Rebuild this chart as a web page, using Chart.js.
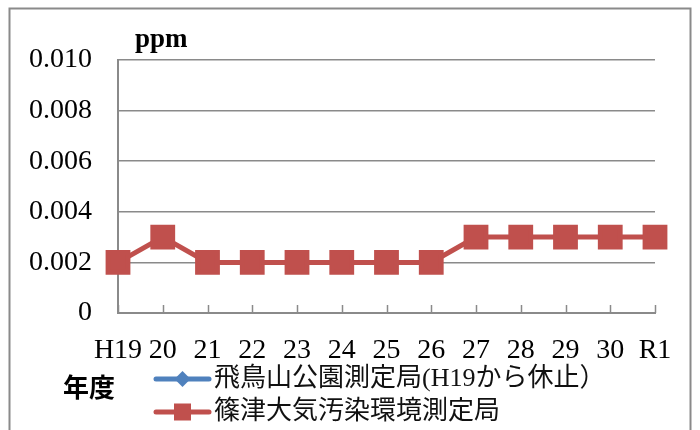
<!DOCTYPE html>
<html>
<head>
<meta charset="utf-8">
<script src="https://cdn.jsdelivr.net/npm/chart.js@4/dist/chart.umd.min.js"></script>
<style>
  html, body { margin: 0; padding: 0; background: #fff; }
  #wrap { width: 700px; height: 430px; }
</style>
</head>
<body>
<div id="wrap"><canvas id="c" width="700" height="430"></canvas></div>
<script>
// Fiscal years (H19 … H30, then R1)
const years = ['H19', '20', '21', '22', '23', '24', '25', '26', '27', '28', '29', '30', 'R1'];

// Annual mean values (ppm)
const asukayamaValues = [null, null, null, null, null, null, null, null, null, null, null, null, null];
const shinotsuValues = [0.002, 0.003, 0.002, 0.002, 0.002, 0.002, 0.002, 0.002, 0.003, 0.003, 0.003, 0.003, 0.003];

const seriesNames = ['飛鳥山公園測定局(H19から休止）', '篠津大気汚染環境測定局'];
const yTicks = [0, 0.002, 0.004, 0.006, 0.008, 0.010];

const unitLabel = 'ppm';
const xTitle = '年度';

const SERIF = '"Liberation Serif", "DejaVu Serif", serif';
const CJK = '"Noto Sans CJK JP", "Noto Sans", sans-serif';
const MIXED = '"Liberation Serif", "Noto Sans CJK JP", serif';
const GRID = '#8a8a8a';

// Frame, inner tick marks, unit label, axis title and legend
const decorations = {
  id: 'decorations',
  afterDraw(chart) {
    const ctx = chart.ctx;
    const area = chart.chartArea;
    const xs = chart.scales.x;
    ctx.save();

    // outer frame
    ctx.strokeStyle = '#8a8a8a';
    ctx.lineWidth = 2;
    ctx.strokeRect(9.5, 8.5, 681, 440);

    // tick marks pointing into the plot
    ctx.strokeStyle = GRID;
    ctx.lineWidth = 1.5;
    for (let i = 0; i < years.length; i++) {
      const x = Math.round(xs.getPixelForValue(i)) + 0.5;
      ctx.beginPath();
      ctx.moveTo(x, area.bottom);
      ctx.lineTo(x, area.bottom - 8);
      ctx.stroke();
    }

    // unit
    ctx.fillStyle = '#000';
    ctx.font = 'bold 27px ' + SERIF;
    ctx.textAlign = 'left';
    ctx.textBaseline = 'middle';
    ctx.fillText(unitLabel, 135, 40);

    // x axis title
    ctx.font = 'bold 26px ' + CJK;
    ctx.fillText(xTitle, 63, 387);

    // legend
    const rows = [379, 412];
    chart.data.datasets.forEach((ds, i) => {
      const y = rows[i];
      ctx.strokeStyle = ds.borderColor;
      ctx.lineWidth = 5;
      ctx.lineCap = 'round';
      ctx.beginPath();
      ctx.moveTo(156, y);
      ctx.lineTo(209, y);
      ctx.stroke();
      ctx.fillStyle = ds.backgroundColor;
      const cx = 182.5;
      if (ds.pointStyle === 'rectRot') {
        ctx.beginPath();
        ctx.moveTo(cx, y - 8);
        ctx.lineTo(cx + 8, y);
        ctx.lineTo(cx, y + 8);
        ctx.lineTo(cx - 8, y);
        ctx.closePath();
        ctx.fill();
      } else {
        ctx.fillRect(cx - 8.5, y - 8.5, 17, 17);
      }
      ctx.fillStyle = '#111';
      ctx.font = '26px ' + MIXED;
      ctx.textBaseline = 'middle';
      ctx.fillText(ds.label, 214, y);
    });
    ctx.restore();
  }
};

new Chart(document.getElementById('c'), {
  type: 'line',
  data: {
    labels: years,
    datasets: [
      {
        label: seriesNames[0],
        data: asukayamaValues,
        borderColor: '#4F81BD',
        backgroundColor: '#4F81BD',
        borderWidth: 5,
        pointStyle: 'rectRot',
        pointRadius: 9,
        clip: false
      },
      {
        label: seriesNames[1],
        data: shinotsuValues,
        borderColor: '#C0504D',
        backgroundColor: '#C0504D',
        borderWidth: 5,
        pointStyle: 'rect',
        pointRadius: 14,
        pointHoverRadius: 14,
        clip: false
      }
    ]
  },
  options: {
    responsive: false,
    animation: false,
    events: [],
    layout: { padding: { top: 60, right: 45, left: 0, bottom: 0 } },
    plugins: {
      legend: { display: false },
      tooltip: { enabled: false }
    },
    scales: {
      x: {
        type: 'category',
        offset: false,
        grid: { display: false },
        border: { display: true, color: GRID, width: 2 },
        ticks: {
          autoSkip: false,
          maxRotation: 0,
          padding: 13,
          color: '#000',
          font: { family: SERIF, size: 28 }
        },
        afterFit(scale) { scale.height = 117; }
      },
      y: {
        min: 0,
        max: 0.01,
        afterBuildTicks(scale) { scale.ticks = yTicks.map(v => ({ value: v })); },
        grid: { color: GRID, lineWidth: 1.5, drawTicks: false },
        border: { display: true, color: GRID, width: 2 },
        ticks: {
          padding: 26,
          color: '#000',
          font: { family: SERIF, size: 28 },
          callback: v => (v === 0 ? '0' : v.toFixed(3))
        },
        afterFit(scale) { scale.width = 118; }
      }
    }
  },
  plugins: [decorations]
});
</script>
</body>
</html>
